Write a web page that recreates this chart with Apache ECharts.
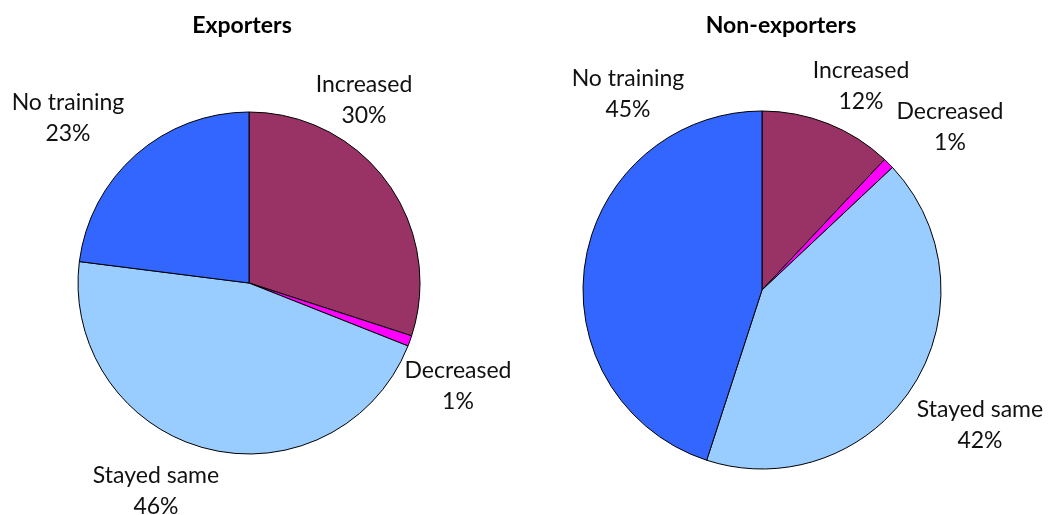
<!DOCTYPE html>
<html>
<head>
<meta charset="utf-8">
<style>
  html, body { margin: 0; padding: 0; background: #fff; }
  #chart { width: 1051px; height: 515px; }
</style>
<script src="https://cdn.jsdelivr.net/npm/echarts@6/dist/echarts.min.js"></script>
</head>
<body>
<div id="chart"></div>
<script>
// ---- Data ----
const categories = ['Increased', 'Decreased', 'Stayed same', 'No training'];
const exportersValues = [30, 1, 46, 23];
const nonExportersValues = [12, 1, 42, 45];
const panelTitles = ['Exporters', 'Non-exporters'];

// ---- Styles / layout (kept separate from data) ----
const colors = ['#993366', '#FF00FF', '#99CCFF', '#3366FF'];
const FONT = 'Lato';
// label centres per pie, in category order
const labelPos = [
  [[364, 100], [458, 386], [156, 491], [68, 118]],
  [[861, 86], [950, 127], [980, 425], [628, 94]]
];

const chart = echarts.init(document.getElementById('chart'), null, { renderer: 'canvas' });

function pieSeries(values, center, radius, idx) {
  return {
    type: 'pie',
    center: center,
    radius: radius,
    startAngle: 90,
    clockwise: true,
    avoidLabelOverlap: false,
    silent: true,
    data: categories.map((c, i) => ({
      name: c,
      value: values[i],
      itemStyle: { color: colors[i] }
    })),
    itemStyle: { borderColor: '#000', borderWidth: 1 },
    label: {
      show: true,
      position: 'outside',
      formatter: p => p.name + '\n' + Math.round(p.percent) + '%',
      fontFamily: FONT,
      fontSize: 23,
      lineHeight: 31,
      color: '#111',
      align: 'center'
    },
    labelLine: { show: false },
    labelLayout: function (params) {
      const p = labelPos[idx][params.dataIndex];
      return { x: p[0], y: p[1], align: 'center', verticalAlign: 'middle' };
    },
    emphasis: { disabled: true }
  };
}

chart.setOption({
  animation: false,
  backgroundColor: '#fff',
  title: [
    { text: panelTitles[0], left: 237, top: 9, textAlign: 'center',
      textStyle: { fontFamily: FONT, fontWeight: 'bold', fontSize: 23, color: '#000' } },
    { text: panelTitles[1], left: 776, top: 9, textAlign: 'center',
      textStyle: { fontFamily: FONT, fontWeight: 'bold', fontSize: 23, color: '#000' } }
  ],
  series: [
    pieSeries(exportersValues, [249, 283], 171, 0),
    pieSeries(nonExportersValues, [762, 290], 179, 1)
  ]
});
</script>
</body>
</html>
